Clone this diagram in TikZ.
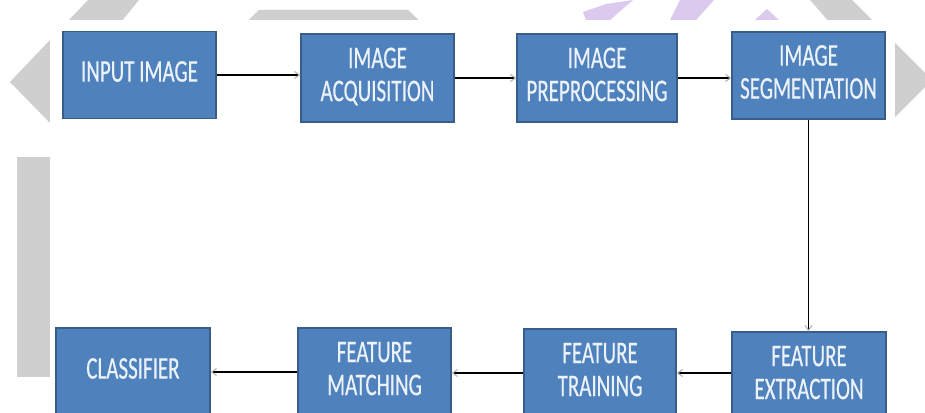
\documentclass[tikz,border=0pt]{standalone}
\usepackage{fontspec}
\setmainfont{Carlito}
\newfontfamily\boxfont[FakeBold=0.6]{Carlito}
\usetikzlibrary{arrows.meta}
\definecolor{boxblue}{RGB}{79,129,189}
\definecolor{boxedge}{RGB}{56,93,138}
\definecolor{boxtext}{RGB}{236,242,250}
\definecolor{wmgray}{RGB}{207,207,207}
\definecolor{wmpurple}{RGB}{220,202,238}
\newcommand{\boxlabel}[1]{\scalebox{1}[1.5]{\begin{tabular}{@{}c@{}}#1\end{tabular}}}
\tikzset{
  stagebox/.style={draw=boxedge, line width=1.2pt, fill=boxblue, text=boxtext,
    font=\boxfont\fontsize{21}{22}\selectfont, inner sep=0pt, minimum width=153pt, minimum height=87pt},
  flow/.style={line width=1.1pt, draw=black, -{Straight Barb[length=5pt,width=7pt,color=gray!60]}},
  wm/.style={fill=wmgray, draw=none},
  wmp/.style={fill=wmpurple, draw=none}
}
\begin{document}
\begin{tikzpicture}[x=1pt,y=-1pt]
\useasboundingbox (0,0) rectangle (925,412);
\fill[white] (0,0) rectangle (925,412);
% watermark shapes behind the diagram
\fill[wm] (88,0) -- (139,0) -- (72,82) -- (150,164) -- (90,164) -- (10,82) -- cycle;
\fill[wm] (852,0) -- (932,80) -- (852,160) -- (800,160) -- (880,80) -- (810,0) -- cycle;
\fill[wm] (259,10) -- (408,10) -- (440,40) -- (228,40) -- cycle;
\fill[wm] (17,157) rectangle (50,377);
\fill[wmp] (606,4) -- (633,0) -- (610,20) -- (586,20) -- (583,12) -- cycle;
\fill[wmp] (680,0) -- (714,0) -- (696,20) -- (670,20) -- cycle;
\fill[wmp] (755,20) -- (767,9) -- (779,20) -- cycle;
% diagram panel
\fill[white] (50,20) rectangle (895,420);
% clip for boxes cut at bottom
\begin{scope}
\clip (0,0) rectangle (925,412);
\node[stagebox] (in)  at (139.5,75)  {\boxlabel{INPUT IMAGE}};
\node[stagebox, minimum height=88pt] (acq) at (377.5,78) {\boxlabel{IMAGE\\ACQUISITION}};
\node[stagebox, minimum width=160pt, minimum height=88pt] (pre) at (597,78) {\boxlabel{IMAGE\\PREPROCESSING}};
\node[stagebox] (seg) at (808.5,75.5) {\boxlabel{IMAGE\\SEGMENTATION}};
\node[stagebox, minimum width=154pt, minimum height=88pt] (ext) at (809,376) {\boxlabel{FEATURE\\EXTRACTION}};
\node[stagebox, minimum width=152pt, minimum height=88pt] (tra) at (600,373) {\boxlabel{FEATURE\\TRAINING}};
\node[stagebox, minimum height=88pt] (mat) at (374.5,372) {\boxlabel{FEATURE\\MATCHING}};
\node[stagebox, minimum width=154pt, minimum height=88pt] (cla) at (133,372) {\boxlabel{CLASSIFIER}};
\end{scope}
% connectors
\draw[flow] (in.east) -- (in.east -| acq.west);
\draw[flow] (acq.east) -- (acq.east -| pre.west);
\draw[flow] (pre.east) -- (pre.east -| seg.west);
\draw[flow] (seg.south) -- (seg.south |- ext.north);
\draw[flow] ([yshift=3pt]ext.west) -- ([yshift=3pt]ext.west -| tra.east);
\draw[flow] (tra.west) -- (tra.west -| mat.east);
\draw[flow] (mat.west) -- (mat.west -| cla.east);
\end{tikzpicture}
\end{document}
